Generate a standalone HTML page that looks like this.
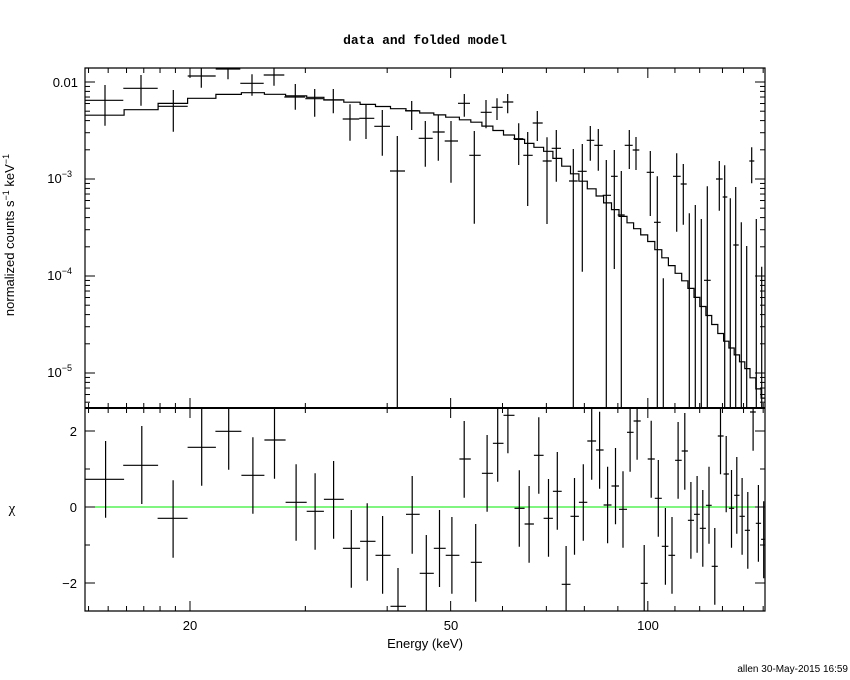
<!DOCTYPE html>
<html><head><meta charset="utf-8"><style>
body{margin:0;background:#fff;}
svg{display:block;font-family:"Liberation Sans",sans-serif;}
</style></head><body>
<svg id="s" width="850" height="680" xmlns="http://www.w3.org/2000/svg">
<defs>
<clipPath id="ct"><rect x="85" y="68" width="680" height="340"/></clipPath>
<clipPath id="cb"><rect x="85" y="408" width="680" height="203"/></clipPath>
</defs>
<rect width="850" height="680" fill="#fff"/>
<text x="425" y="44" text-anchor="middle" font-family="Liberation Mono,monospace" font-weight="bold" font-size="13">data and folded model</text>
<text x="425" y="648" text-anchor="middle" font-size="13">Energy (keV)</text>
<text x="848" y="672" text-anchor="end" font-size="10">allen 30-May-2015 16:59</text>
<text transform="translate(14,235) rotate(-90)" text-anchor="middle" font-size="13">normalized counts s<tspan dy="-5" font-size="9">−1</tspan><tspan dy="5"> keV</tspan><tspan dy="-5" font-size="9">−1</tspan></text>
<text x="12" y="513" text-anchor="middle" font-family="Liberation Serif,serif" font-size="15">χ</text>
<g font-size="13" text-anchor="end">
<text x="78" y="87">0.01</text>
<text x="72" y="183">10<tspan dy="-6" font-size="9">−3</tspan></text>
<text x="72" y="280">10<tspan dy="-6" font-size="9">−4</tspan></text>
<text x="72" y="377">10<tspan dy="-6" font-size="9">−5</tspan></text>
<text x="77" y="436">2</text>
<text x="77" y="512">0</text>
<text x="77" y="588">−2</text>
</g>
<g font-size="13" text-anchor="middle">
<text x="190" y="630">20</text><text x="451" y="630">50</text><text x="648" y="630">100</text>
</g>
<g id="g" stroke="#000" fill="none"></g>
</svg>
<script>
const g=document.getElementById('g');
function L(x1,y1,x2,y2,w,c){const l=document.createElementNS('http://www.w3.org/2000/svg','line');l.setAttribute('x1',x1);l.setAttribute('y1',y1);l.setAttribute('x2',x2);l.setAttribute('y2',y2);l.setAttribute('stroke-width',w||1);if(c)l.setAttribute('stroke',c);g.appendChild(l);return l;}
function P(d,w,clip){const p=document.createElementNS('http://www.w3.org/2000/svg','path');p.setAttribute('d',d);p.setAttribute('stroke-width',w);if(clip)p.setAttribute('clip-path','url(#'+clip+')');g.appendChild(p);}
const X=e=>190+(Math.log10(e)-Math.log10(20))*655;
L(85,507,765,507,1,'#00ee00');
for(let e=14;e<=150;e++){
 if(e>20&&e<100&&e%10)continue; if(e>100&&e%10)continue;
 const x=X(e); if(x<86||x>764)continue;
 const maj=(e==20||e==50||e==100); const t=maj?10:5;
 L(x,68,x,68+t);L(x,408,x,408-t);L(x,408,x,408+t);L(x,611,x,611-t);
}
for(let d=-6;d<=-2;d++)for(let m=1;m<10;m++){
 const v=m*Math.pow(10,d);const y=82-(Math.log10(v)+2)*97;
 if(y<69||y>407)continue;const t=m==1?10:5;
 L(85,y,85+t,y);L(765,y,765-t,y);
}
[[2,10],[1,5],[0,10],[-1,5],[-2,10]].forEach(([v,t])=>{const y=507-v*38;L(85,y,85+t,y);L(765,y,765-t,y);});
P('M85,68H765V611H85Z',1.2);
L(85,408,765,408,2);
const R=[[58,12,100,223,108,338],[140,98,177,181,63,297],[211,176,244,340,226,458],[276,244,308,127,10,242],[337,307,366,79,10,194],[392,366,418,211,97,326],[441,418,466,105,10,221],[490,466,514,292,178,407],[533,514,553,319,205,434],[575,553,598,283,168,401],[615,596,635,430,315,548],[651,635,670,409,295,527],[686,670,704,451,333,566],[721,704,739,604,489,620],[753,739,770,328,213,446],[785,770,802,505,390,620],[815,802,829,430,315,546],[843,829,860,451,336,566],[871,860,886,162,48,278],[897,886,911,472,357,590],[923,911,936,205,90,320],[947,936,960,115,10,230],[970,960,985,31,10,145],[996,985,1008,310,196,425],[1018,1008,1029,357,243,473],[1040,1029,1051,151,37,266],[1062,1051,1072,340,222,455],[1082,1072,1092,259,141,374],[1102,1092,1112,538,423,620],[1121,1112,1131,334,219,449],[1141,1131,1150,292,178,407],[1160,1150,1170,108,10,224],[1178,1170,1187,135,20,251],[1196,1187,1205,300,185,415],[1214,1205,1222,243,129,358],[1231,1222,1240,313,199,428],[1247,1240,1255,82,10,200],[1263,1255,1271,48,10,164],[1279,1271,1287,535,420,620],[1295,1287,1303,162,47,278],[1311,1303,1319,280,165,395],[1327,1319,1334,424,309,539],[1342,1334,1349,451,336,566],[1356,1349,1364,166,51,281],[1371,1364,1378,138,24,254],[1385,1378,1392,346,231,461],[1399,1392,1405,328,213,443],[1412,1405,1419,370,255,485],[1426,1419,1432,301,185,416],[1439,1432,1446,484,369,599],[1452,1446,1459,93,10,208],[1465,1459,1471,207,93,322],[1477,1471,1483,310,195,428],[1489,1483,1495,271,156,386],[1501,1495,1507,334,219,449],[1514,1507,1519,376,261,491],[1526,1519,1532,21,10,137],[1538,1532,1544,355,240,470],[1550,1544,1556,403,289,520]];
const zx=v=>80+v/2.267, zy=v=>405+v/3;
let d='';
R.forEach(r=>{d+=`M${zx(r[0]).toFixed(1)},${zy(r[4]).toFixed(1)}V${zy(r[5]).toFixed(1)}M${zx(r[1]).toFixed(1)},${zy(r[3]).toFixed(1)}H${zx(r[2]).toFixed(1)}`;});
P(d,1.2,'cb');
const T1=[[75,15,130,121,75,197],[183,130,233,85,45,137],[280,233,323,139,90,215],[364,323,407,48,24,83],[444,407,481,27,24,58],[516,481,551,70,43,107],[582,551,613,45,24,77],[646,613,676,111,72,149],[704,676,730,116,87,170],[760,730,788,120,87,160],[810,788,838,177,133,242],[858,838,883,175,132,237],[907,883,930,199,150,287],[952,930,975,333,228,1044],[995,975,1016,152,123,210],[1036,1016,1058,235,183,320],[1075,1058,1094,216,166,302],[1113,1094,1134,243,183,368],[1153,1134,1170,130,102,170]];
const T2=[[73,58,92,286,213,491],[108,92,125,157,120,205],[141,125,158,142,115,180],[173,158,190,126,102,160],[206,190,220,236,190,315],[233,220,248,286,216,438],[262,248,278,189,153,243],[291,278,305,303,232,492],[319,305,333,265,210,365],[370,357,383,363,267,1044],[397,383,410,334,252,635],[421,410,433,241,198,302],[445,433,458,256,207,332],[469,458,483,406,300,1044],[493,483,503,349,270,627],[514,503,524,465,333,1044],[538,524,548,256,210,327],[558,548,568,270,231,330],[601,590,612,337,273,468],[622,612,632,487,349,1044],[640,632,650,1100,655,1044],[680,669,692,349,280,515],[700,692,710,372,312,494],[718,710,727,1100,460,1044],[736,727,745,1100,435,1044],[754,745,762,1100,477,1044],[772,762,782,661,379,1044],[808,798,818,357,303,452],[824,818,832,411,316,1044],[841,832,850,1100,415,1044],[857,850,866,555,381,1044],[874,866,882,1100,487,1044],[890,882,898,1100,558,1044],[905,898,913,303,262,370],[919,913,928,1100,477,1044],[935,928,943,1100,620,1044]];
d='';
const f=(T,ox)=>T.forEach(r=>{const a=v=>ox+v/3,b=v=>60+v/3;d+=`M${a(r[0]).toFixed(1)},${b(r[4]).toFixed(1)}V${b(r[5]).toFixed(1)}M${a(r[1]).toFixed(1)},${b(r[3]).toFixed(1)}H${a(r[2]).toFixed(1)}`;});
f(T1,80);f(T2,450);
P(d,1.2,'ct');
const M=[[85,118],[140,110],[157,106],[188,101],[216,95.5],[250,92.5],[313,97],[380,106],[447,116],[480,123],[550,152],[610,205],[650,240],[690,287],[723,337],[750,372],[765,402]];
const my=x=>{for(let i=0;i<M.length-1;i++){if(x<=M[i+1][0]){const t=(x-M[i][0])/(M[i+1][0]-M[i][0]);return M[i][1]+t*(M[i+1][1]-M[i][1]);}}return M[M.length-1][1];};
const edges=[85];R.forEach(r=>edges.push(zx(r[2])));edges[edges.length-1]=765;
d='';
for(let i=0;i<edges.length-1;i++){const y=my((edges[i]+edges[i+1])/2);d+=(i?'V':'M'+edges[i].toFixed(1)+',')+y.toFixed(1)+'H'+edges[i+1].toFixed(1);}
P(d,1.2,'ct');
</script>
</body></html>
